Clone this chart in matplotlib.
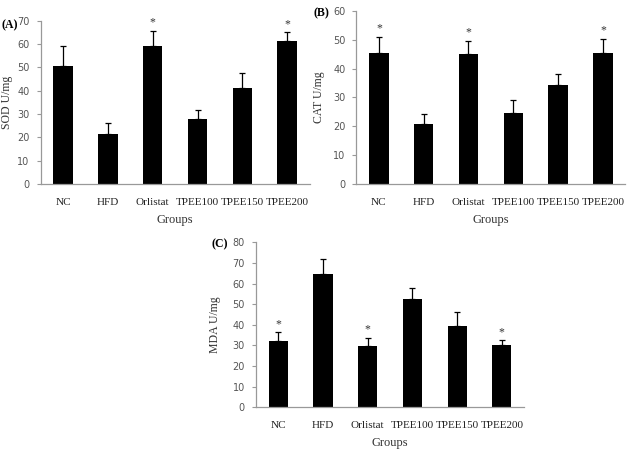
import matplotlib.pyplot as plt

plt.rcParams['font.family'] = ['Liberation Serif', 'DejaVu Serif']

groups = ['NC', 'HFD', 'Orlistat', 'TPEE100', 'TPEE150', 'TPEE200']

# SOD panel
sod = [50.5, 21.5, 59.2, 28.0, 41.0, 61.5]
sod_err = [8.5, 4.7, 6.6, 3.7, 6.5, 3.5]
sod_star = [False, False, True, False, False, True]

# CAT panel
cat = [45.5, 20.8, 45.0, 24.7, 34.2, 45.5]
cat_err = [5.5, 3.5, 4.7, 4.5, 3.8, 4.8]
cat_star = [True, False, True, False, False, True]

# MDA panel
mda = [32.3, 64.7, 29.7, 52.5, 39.5, 30.0]
mda_err = [4.2, 7.3, 4.1, 5.3, 6.5, 2.5]
mda_star = [True, False, True, False, False, True]

fig = plt.figure(figsize=(6.4, 4.53), dpi=100)

# draw one panel
def panel(rect, vals, errs, stars, ymax, ylabel, ylab_x, tag, tag_xy):
    ax = fig.add_axes(rect)
    x = range(len(groups))
    ax.bar(x, vals, width=0.43, color='black', zorder=2)
    ax.errorbar(x, vals, yerr=[[0] * len(errs), errs], fmt='none',
                ecolor='black', elinewidth=0.9, capsize=2.5, capthick=0.9, zorder=3)
    for i in x:
        if stars[i]:
            ax.text(i, vals[i] + errs[i] + ymax * 0.012, '*', ha='center', va='bottom',
                    fontsize=8.5, color='#333333')
    ax.set_xlim(-0.5, len(groups) - 0.5)
    ax.set_ylim(0, ymax)
    ax.set_yticks(range(0, ymax + 1, 10))
    ax.set_xticks(list(x))
    ax.set_xticklabels(groups)
    ax.tick_params(axis='x', length=0, pad=10, labelsize=8, labelcolor='#222222')
    ax.tick_params(axis='y', length=3, width=0.8, color='#999999', labelsize=7,
                   labelcolor='#555555', pad=5)
    for lab in ax.get_yticklabels():
        lab.set_family('DejaVu Sans')
    for s in ['top', 'right']:
        ax.spines[s].set_visible(False)
    for s in ['left', 'bottom']:
        ax.spines[s].set_color('#999999')
        ax.spines[s].set_linewidth(0.9)
    ax.set_ylabel(ylabel, fontsize=8.5, color='#333333')
    ax.yaxis.set_label_coords(ylab_x, 0.5)
    ax.set_xlabel('Groups', fontsize=9, color='#333333', labelpad=5)
    fig.text(tag_xy[0] / 640, 1 - tag_xy[1] / 453, tag, ha='left', va='center',
             fontsize=8.5, fontweight='bold')
    return ax

panel([0.0636, 0.594, 0.42, 0.36], sod, sod_err, sod_star, 70, 'SOD U/mg', -0.103, '(A)', (1, 25))
panel([0.557, 0.594, 0.42, 0.382], cat, cat_err, cat_star, 60, 'CAT U/mg', -0.118, '(B)', (313, 13))
panel([0.40, 0.101, 0.419, 0.364], mda, mda_err, mda_star, 80, 'MDA U/mg', -0.13, '(C)', (212, 244))

plt.savefig('out.png', dpi=100)
